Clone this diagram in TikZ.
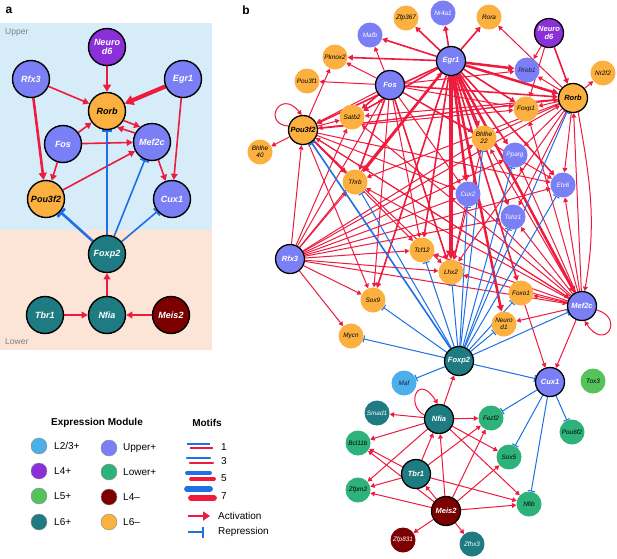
\documentclass[tikz,border=0pt]{standalone}
\usepackage{fontspec}
\setmainfont{Liberation Sans}
\usetikzlibrary{arrows.meta}
\definecolor{upc}{HTML}{7B7FF5}
\definecolor{purp}{HTML}{8B2FD8}
\definecolor{orng}{HTML}{FBB040}
\definecolor{tealc}{HTML}{1F7B82}
\definecolor{dred}{HTML}{7D0000}
\definecolor{lblue}{HTML}{4BB0EA}
\definecolor{lfg}{HTML}{56C25A}
\definecolor{lowg}{HTML}{2DB37A}
\definecolor{redE}{HTML}{EE1B3F}
\definecolor{blueE}{HTML}{1E70E6}
\definecolor{bgup}{HTML}{D6ECF8}
\definecolor{bglow}{HTML}{FCE4D6}
\definecolor{navy}{HTML}{1A1A4A}
\pgfdeclarelayer{back}
\pgfdeclarelayer{edges}
\pgfsetlayers{back,edges,main}
\tikzset{
  an/.style={circle, draw=black, line width=1.4pt, minimum size=37pt, inner sep=0pt, align=center,
    font=\fontsize{9}{9.5}\selectfont\bfseries\itshape},
  bn/.style={circle, draw=black, line width=1.3pt, minimum size=29pt, inner sep=0pt, align=center,
    font=\fontsize{7.5}{8}\selectfont\bfseries\itshape},
  sn/.style={circle, minimum size=25pt, inner sep=0pt, align=center,
    font=\fontsize{6.4}{6.8}\selectfont\itshape},
  cU/.style={fill=upc, text=white},
  cUd/.style={fill=upc, text=navy},
  cP/.style={fill=purp, text=white},
  cO/.style={fill=orng, text=black},
  cT/.style={fill=tealc, text=white},
  cR/.style={fill=dred, text=white},
  cL/.style={fill=lblue, text=navy},
  cG/.style={fill=lfg, text=black},
  cW/.style={fill=lowg, text=black},
  act/.style={draw=redE, -{Triangle[length=3.2pt 1.2, width=3.4pt 1.4]}},
  rep/.style={draw=blueE, -{Bar[width=4.5pt 2.5]}},
  aact/.style={draw=redE, -{Triangle[length=4.5pt 1, width=4.5pt 1.3]}},
  arep/.style={draw=blueE, -{Bar[width=6pt 2]}},
  e1/.style={line width=1pt},
  e3/.style={line width=1.6pt},
  e5/.style={line width=2.5pt},
  e7/.style={line width=4.5pt},
  a1/.style={line width=1.6pt},
  a3/.style={line width=2.6pt},
  a7/.style={line width=4.2pt},
  lgc/.style={circle, draw=black!45, line width=0.4pt, minimum size=16pt, inner sep=0pt},
  lgt/.style={anchor=west, font=\fontsize{10}{12}\selectfont, inner sep=0pt},
  hdr/.style={font=\fontsize{10}{12}\selectfont\bfseries, inner sep=0pt},
  pl/.style={font=\fontsize{12}{14}\selectfont\bfseries, inner sep=0pt},
  reg/.style={font=\fontsize{8.5}{10}\selectfont, text=black!50, anchor=west, inner sep=0pt}
}
\begin{document}
\begin{tikzpicture}[x=1pt,y=-1pt]
\useasboundingbox (0,0) rectangle (617,558);
% ---------------- panel a ----------------
\begin{pgfonlayer}{back}
\fill[white] (0,0) rectangle (617,558);
\fill[bgup] (0,23) rectangle (212,230);
\fill[bglow] (0,230) rectangle (212,350);
\end{pgfonlayer}
\node[pl] (la) at (9,10) {a};
\node[reg] (lup) at (5,32) {Upper};
\node[reg] (llow) at (5,342) {Lower};

\node[an,cP] (Aneurod6) at (107,47) {Neuro\\d6};
\node[an,cU] (Arfx3) at (31,79) {Rfx3};
\node[an,cU] (Aegr1) at (183,79) {Egr1};
\node[an,cO] (Arorb) at (107,111) {Rorb};
\node[an,cU] (Afos) at (63,144) {Fos};
\node[an,cU] (Amef2c) at (152,142) {Mef2c};
\node[an,cO] (Apou3f2) at (46,199) {Pou3f2};
\node[an,cU] (Acux1) at (172,199) {Cux1};
\node[an,cT] (Afoxp2) at (107,254) {Foxp2};
\node[an,cT] (Atbr1) at (45,315) {Tbr1};
\node[an,cT] (Anfia) at (107,315) {Nfia};
\node[an,cR] (Ameis2) at (171,315) {Meis2};

\begin{pgfonlayer}{edges}
\draw[aact,a3] (Aneurod6) -- (Arorb);
\draw[aact,a1] (Arfx3) -- (Arorb);
\draw[aact,a7] (Aegr1) -- (Arorb);
\draw[aact,a1] (Afos) -- (Arorb);
\draw[aact,a1] (Arorb.-30) -- (Amef2c.128);
\draw[aact,a1] (Amef2c.152) -- (Arorb.-58);
\draw[aact,a1] (Afos) -- (Amef2c);
\draw[aact,a3] (Arfx3) -- (Apou3f2);
\draw[aact,a1] (Afos) -- (Apou3f2);
\draw[aact,a1] (Apou3f2) -- (Amef2c);
\draw[aact,a1] (Aegr1) -- (Acux1);
\draw[aact,a1] (Amef2c) -- (Acux1);
\draw[arep,a3] (Afoxp2) -- (Apou3f2);
\draw[arep,a1] (Afoxp2) -- (Arorb);
\draw[arep,a1] (Afoxp2) -- (Amef2c);
\draw[arep,a1] (Afoxp2) -- (Acux1);
\draw[aact,a1] (Anfia) -- (Afoxp2);
\draw[aact,a1] (Atbr1) -- (Anfia);
\draw[aact,a1] (Ameis2) -- (Anfia);
\end{pgfonlayer}

% ---------------- panel b ----------------
\node[pl] (lb) at (246,10) {b};
\node[sn,cO] (bZfp367) at (406,18) {Zfp367};
\node[sn,cU] (bMafb) at (370,35) {Mafb};
\node[sn,cU] (bNr4a1) at (443,13) {Nr4a1};
\node[sn,cO] (bRora) at (489,17) {Rora};
\node[bn,cP] (bNeurod6) at (549,33) {Neuro\\d6};
\node[sn,cO] (bPknox2) at (335,57) {Pknox2};
\node[bn,cU] (bEgr1) at (451,61) {Egr1};
\node[sn,cUd] (bRreb1) at (527,70) {Rreb1};
\node[sn,cO] (bNr2f2) at (603,73) {Nr2f2};
\node[sn,cO] (bPou3f1) at (307,81) {Pou3f1};
\node[bn,cU] (bFos) at (390,85) {Fos};
\node[bn,cO] (bRorb) at (573,98) {Rorb};
\node[sn,cO] (bFoxp1) at (526,109) {Foxp1};
\node[sn,cO] (bSatb2) at (352,117) {Satb2};
\node[bn,cO] (bPou3f2) at (303,130) {Pou3f2};
\node[sn,cO] (bBhlhe22) at (484,138) {Bhlhe\\22};
\node[sn,cO] (bBhlhe40) at (260,152) {Bhlhe\\40};
\node[sn,cU] (bPparg) at (515,155) {Pparg};
\node[sn,cO] (bThrb) at (355,182) {Thrb};
\node[sn,cU] (bEtv6) at (563,185) {Etv6};
\node[sn,cU] (bCux2) at (468,194) {Cux2};
\node[sn,cU] (bTshz1) at (513,217) {Tshz1};
\node[sn,cO] (bTcf12) at (422,250) {Tcf12};
\node[bn,cU] (bRfx3) at (290,259) {Rfx3};
\node[sn,cO] (bLhx2) at (451,272) {Lhx2};
\node[sn,cO] (bFoxo1) at (521,293) {Foxo1};
\node[sn,cO] (bSox9) at (373,300) {Sox9};
\node[bn,cU] (bMef2c) at (582,306) {Mef2c};
\node[sn,cO] (bNeurod1) at (504,324) {Neuro\\d1};
\node[sn,cO] (bMycn) at (351,336) {Mycn};
\node[bn,cT] (bFoxp2) at (459,361) {Foxp2};
\node[bn,cU] (bCux1) at (550,382) {Cux1};
\node[sn,cG] (bTox3) at (593,381) {Tox3};
\node[sn,cL] (bMaf) at (404,383) {Maf};
\node[sn,cT] (bSmad1) at (377,413) {Smad1};
\node[bn,cT] (bNfia) at (439,419) {Nfia};
\node[sn,cW] (bFezf2) at (491,418) {Fezf2};
\node[sn,cW] (bPou6f2) at (572,432) {Pou6f2};
\node[sn,cW] (bBcl11b) at (358,443) {Bcl11b};
\node[sn,cW] (bSox5) at (509,457) {Sox5};
\node[bn,cT] (bTbr1) at (416,474) {Tbr1};
\node[sn,cW] (bZfpm2) at (358,490) {Zfpm2};
\node[sn,cW] (bNfib) at (529,504) {Nfib};
\node[bn,cR] (bMeis2) at (446,511) {Meis2};
\node[sn,cR] (bZfp831) at (403,540) {Zfp831};
\node[sn,cT] (bZfhx3) at (472,544) {Zfhx3};

\begin{pgfonlayer}{edges}
% Egr1
\foreach \t in {Nr4a1,Rora,Zfp367,Pknox2,Mafb,Foxp1,Bhlhe22,Tcf12,Satb2,Etv6,Tshz1,Pparg,Foxo1,Sox9,Pou3f2}
  \draw[act,e3] (bEgr1) -- (b\t);
\foreach \t in {Rreb1,Rorb,Thrb,Neurod1,Mef2c,Cux2}
  \draw[act,e5] (bEgr1) -- (b\t);
\draw[act,e7] (bEgr1) -- (bLhx2);
% Fos
\foreach \t in {Mafb,Pknox2,Pou3f1,Pou3f2,Rreb1,Sox9,Foxp1,Etv6,Bhlhe22,Cux2,Tcf12}
  \draw[act,e1] (bFos) -- (b\t);
\foreach \t in {Satb2,Thrb,Rorb,Lhx2}
  \draw[act,e3] (bFos) -- (b\t);
% Rorb
\foreach \t in {Nr2f2,Rreb1,Rora,Foxp1,Bhlhe22,Pparg,Etv6,Satb2,Pou3f2,Thrb,Tshz1,Lhx2}
  \draw[act,e1] (bRorb) -- (b\t);
\draw[act,e1] (bRorb.-70) to[out=-80,in=80] (bMef2c.80);
% Neurod6
\draw[act,e3] (bNeurod6) -- (bRorb);
\foreach \t in {Foxp1,Rreb1}
  \draw[act,e1] (bNeurod6) -- (b\t);
% Pou3f2
\foreach \t in {Bhlhe40,Satb2,Pknox2,Rorb,Mef2c,Lhx2,Tcf12,Foxp1,Etv6,Sox9,Cux2}
  \draw[act,e1] (bPou3f2) -- (b\t);
\draw[act,e3] (bPou3f2) -- (bThrb);
\draw[act,e1] (bPou3f2.165) .. controls (262,124) and (280,88) .. (bPou3f2.95);
% Rfx3
\foreach \t in {Pou3f2,Thrb,Satb2,Fos,Egr1,Sox9,Mycn,Lhx2,Tcf12,Rorb,Mef2c,Cux2,Bhlhe22,Pparg,Tshz1,Etv6}
  \draw[act,e1] (bRfx3) -- (b\t);
% Mef2c
\foreach \t in {Foxo1,Neurod1,Cux1,Tshz1,Etv6,Rorb,Pparg,Lhx2,Foxp1,Bhlhe22,Cux2,Satb2,Thrb,Tcf12,Pou3f2}
  \draw[act,e1] (bMef2c) -- (b\t);
\draw[act,e1] (bMef2c.-15) .. controls (625,318) and (605,352) .. (bMef2c.-80);
% others
\draw[act,e1] (bBhlhe22) -- (bLhx2);
\draw[act,e1] (bCux2) -- (bLhx2);
\draw[act,e1] (bFoxo1) -- (bCux1);
% Foxp2 repression
\foreach \t in {Thrb,Tcf12,Lhx2,Sox9,Mycn,Maf,Cux2,Tshz1,Pparg,Etv6,Rorb,Foxo1,Neurod1,Cux1,Bhlhe22,Mef2c}
  \draw[rep,e1] (bFoxp2) -- (b\t);
\draw[rep,e3] (bFoxp2) -- (bPou3f2);
% lower network
\draw[act,e1] (bNfia) -- (bFoxp2);
\foreach \t in {Smad1,Bcl11b,Fezf2,Sox5,Nfib,Zfpm2}
  \draw[act,e1] (bNfia) -- (b\t);
\draw[act,e1] (bNfia.165) .. controls (405,405) and (418,372) .. (bNfia.95);
\foreach \t in {Nfia,Bcl11b,Zfpm2,Fezf2,Nfib}
  \draw[act,e1] (bTbr1) -- (b\t);
\foreach \t in {Nfia,Tbr1,Zfpm2,Bcl11b,Fezf2,Sox5,Nfib,Zfp831,Zfhx3}
  \draw[act,e1] (bMeis2) -- (b\t);
\foreach \t in {Fezf2,Sox5,Nfib,Pou6f2}
  \draw[rep,e1] (bCux1) -- (b\t);
\end{pgfonlayer}

% ---------------- legend ----------------
\node[hdr] (hexp) at (97,423) {Expression Module};
\node[hdr] (hmot) at (207,423) {Motifs};
\node[lgc,fill=lblue] (g1) at (39,446) {};
\node[lgc,fill=purp] (g2) at (39,471) {};
\node[lgc,fill=lfg] (g3) at (39,496) {};
\node[lgc,fill=tealc] (g4) at (39,522) {};
\node[lgc,fill=upc] (g5) at (109,448) {};
\node[lgc,fill=lowg] (g6) at (109,472) {};
\node[lgc,fill=dred] (g7) at (109,497) {};
\node[lgc,fill=orng] (g8) at (109,522) {};
\node[lgt] (t1) at (54,446) {L2/3+};
\node[lgt] (t2) at (54,471) {L4+};
\node[lgt] (t3) at (54,496) {L5+};
\node[lgt] (t4) at (54,522) {L6+};
\node[lgt] (t5) at (123,448) {Upper+};
\node[lgt] (t6) at (123,472) {Lower+};
\node[lgt] (t7) at (123,497) {L4–};
\node[lgt] (t8) at (123,522) {L6–};
\coordinate (m1a) at (187,444); \coordinate (m1b) at (210,444);
\coordinate (m1c) at (190,448); \coordinate (m1d) at (213,448);
\draw[blueE,line width=1.2pt] (m1a) -- (m1b);
\draw[redE,line width=1.2pt] (m1c) -- (m1d);
\coordinate (m3a) at (187,458); \coordinate (m3b) at (210,458);
\coordinate (m3c) at (190,463); \coordinate (m3d) at (213,463);
\draw[blueE,line width=2.3pt,line cap=round] (m3a) -- (m3b);
\draw[redE,line width=2.3pt,line cap=round] (m3c) -- (m3d);
\coordinate (m5a) at (187,473); \coordinate (m5b) at (210,473);
\coordinate (m5c) at (191,479); \coordinate (m5d) at (214,479);
\draw[blueE,line width=3.8pt,line cap=round] (m5a) -- (m5b);
\draw[redE,line width=3.8pt,line cap=round] (m5c) -- (m5d);
\coordinate (m7a) at (187,489); \coordinate (m7b) at (210,489);
\coordinate (m7c) at (191,498); \coordinate (m7d) at (214,498);
\draw[blueE,line width=5.8pt,line cap=round] (m7a) -- (m7b);
\draw[redE,line width=5.8pt,line cap=round] (m7c) -- (m7d);
\node[lgt] (n1) at (221,447) {1};
\node[lgt] (n3) at (221,461) {3};
\node[lgt] (n5) at (221,478) {5};
\node[lgt] (n7) at (221,496) {7};
\coordinate (aa) at (188,516); \coordinate (ab) at (210,516);
\draw[redE,line width=1.8pt,-{Triangle[length=7pt,width=9pt]}] (aa) -- (ab);
\coordinate (ra) at (188,532); \coordinate (rb) at (204,532);
\draw[blueE,line width=1.8pt,-{Bar[width=11pt,line width=1.8pt]}] (ra) -- (rb);
\node[lgt] (tact) at (218,516) {Activation};
\node[lgt] (trep) at (218,532) {Repression};
\end{tikzpicture}
\end{document}
